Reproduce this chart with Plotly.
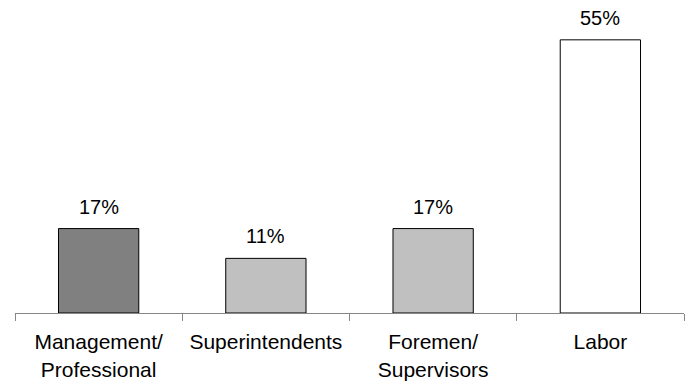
import plotly.graph_objects as go

# Share of workforce by job category
categories = ["Management/<br>Professional", "Superintendents", "Foremen/<br>Supervisors", "Labor"]
shares = [17, 11, 17, 55]
bar_colors = ["#808080", "#C0C0C0", "#C0C0C0", "#FFFFFF"]

FONT = "Liberation Sans, Arial, sans-serif"

fig = go.Figure()
fig.add_trace(go.Bar(
    x=categories,
    y=shares,
    marker=dict(color=bar_colors, line=dict(color="#000000", width=1)),
    hoverinfo="skip",
))

for cat, val in zip(categories, shares):
    fig.add_annotation(
        x=cat, y=val, text=f"{val}%", showarrow=False,
        yanchor="bottom", yshift=9,
        font=dict(family=FONT, size=20, color="#000000"),
    )

fig.update_layout(
    width=692, height=386,
    margin=dict(l=15, r=8, t=15, b=73),
    paper_bgcolor="#FFFFFF", plot_bgcolor="#FFFFFF",
    bargap=0.52,
    showlegend=False,
    font=dict(family=FONT, size=21, color="#000000"),
)
fig.update_xaxes(
    showline=True, linecolor="#868686", linewidth=1,
    ticks="outside", tickson="boundaries", ticklen=7, tickcolor="#868686",
    showgrid=False, tickangle=0, ticklabelstandoff=10, automargin=False,
    tickfont=dict(family=FONT, size=21, color="#000000"),
)
fig.update_yaxes(
    range=[0, 60], visible=False, showgrid=False, zeroline=False,
)

fig.write_html("out.html")
